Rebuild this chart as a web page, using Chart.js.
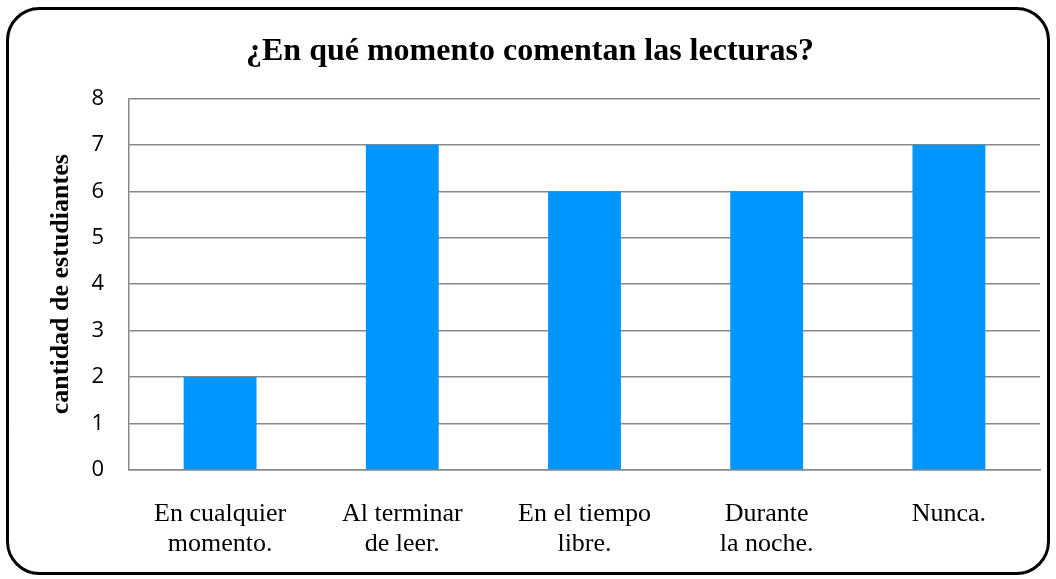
<!DOCTYPE html>
<html>
<head>
<meta charset="utf-8">
<script src="https://cdn.jsdelivr.net/npm/chart.js@4"></script>
<style>
  html, body { margin: 0; padding: 0; background: #fff; }
  #wrap { width: 1056px; height: 579px; }
</style>
</head>
<body>
<div id="wrap"><canvas id="momentChart" width="1056" height="579"></canvas></div>
<script>
const categories = [
    ['En cualquier', 'momento.'],
    ['Al terminar', 'de leer.'],
    ['En el tiempo', 'libre.'],
    ['Durante', 'la noche.'],
    ['Nunca.']
];
const students = [2, 7, 6, 6, 7];
const yTicks = [0, 1, 2, 3, 4, 5, 6, 7, 8];

// marco redondeado alrededor del gráfico
const framePlugin = {
    id: 'frame',
    beforeDraw(chart) {
        const ctx = chart.ctx;
        ctx.save();
        ctx.fillStyle = '#fff';
        ctx.fillRect(0, 0, chart.width, chart.height);
        ctx.beginPath();
        ctx.roundRect(7.5, 8.5, 1041, 565, 32);
        ctx.lineWidth = 3;
        ctx.strokeStyle = '#000';
        ctx.stroke();
        ctx.restore();
    }
};

const ctx = document.getElementById('momentChart').getContext('2d');
const momentChart = new Chart(ctx, {
    type: 'bar',
    data: {
        labels: categories,
        datasets: [{
            label: 'cantidad de estudiantes',
            data: students,
            backgroundColor: '#0096FF',
            borderWidth: 0,
            categoryPercentage: 1,
            barPercentage: 0.4
        }]
    },
    options: {
        responsive: false,
        animation: false,
        layout: { padding: { left: 20, right: 16, top: 0, bottom: 0 } },
        plugins: {
            legend: { display: false },
            tooltip: { enabled: false },
            title: {
                display: true,
                text: '¿En qué momento comentan las lecturas?',
                color: '#000',
                font: { family: 'Liberation Serif', size: 32, weight: 'bold', lineHeight: 1.2 },
                padding: { top: 33, bottom: 27 }
            }
        },
        scales: {
            x: {
                grid: { display: false },
                border: { color: '#888', width: 1.5 },
                ticks: {
                    color: '#000',
                    padding: 21,
                    maxRotation: 0,
                    font: { family: 'Liberation Serif', size: 26, lineHeight: 1.15 }
                },
                afterFit(scale) { scale.height = 109; }
            },
            y: {
                min: 0,
                max: 8,
                afterBuildTicks(scale) { scale.ticks = yTicks.map(v => ({ value: v })); },
                grid: { color: '#888', lineWidth: 1.5, drawTicks: false },
                border: { color: '#888', width: 1.5 },
                ticks: {
                    color: '#000',
                    padding: 25,
                    font: { family: 'Open Sans', size: 22 }
                },
                title: {
                    display: true,
                    text: 'cantidad de estudiantes',
                    color: '#000',
                    font: { family: 'Liberation Serif', size: 26, weight: 'bold', lineHeight: 1.2 },
                    padding: { top: 26, bottom: 0 }
                },
                afterFit(scale) { scale.width = 109; }
            }
        }
    },
    plugins: [framePlugin]
});
</script>
</body>
</html>
